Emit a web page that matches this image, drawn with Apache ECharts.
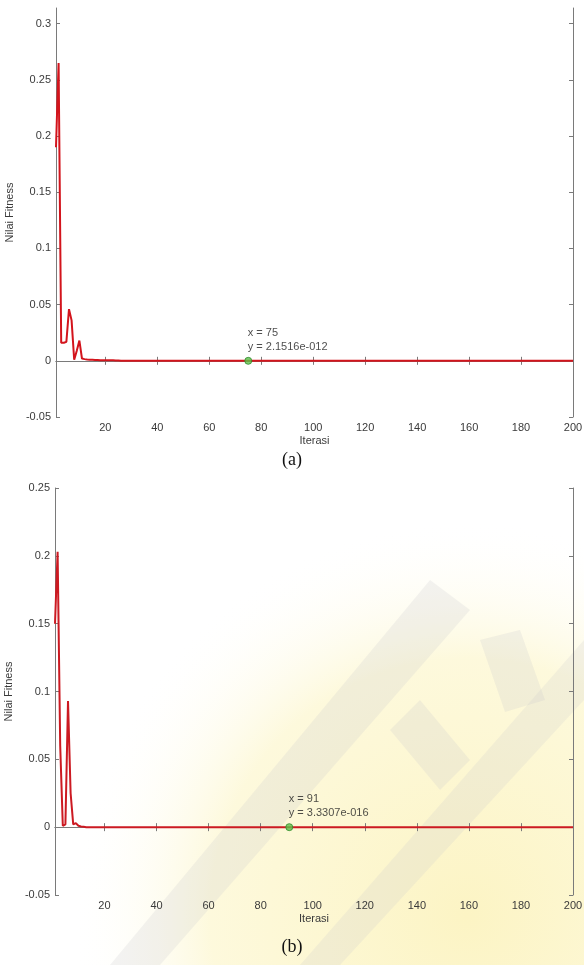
<!DOCTYPE html>
<html>
<head>
<meta charset="utf-8">
<script src="https://cdn.jsdelivr.net/npm/echarts@6/dist/echarts.min.js"></script>
<style>
  html, body { margin: 0; padding: 0; background: #ffffff; }
  #chart { width: 584px; height: 965px; }
</style>
</head>
<body>
<div id="chart"></div>
<script>
// ---------- data ----------
const xTicks = [20, 40, 60, 80, 100, 120, 140, 160, 180, 200];
const yTicksA = [-0.05, 0, 0.05, 0.1, 0.15, 0.2, 0.25, 0.3];
const yTicksB = [-0.05, 0, 0.05, 0.1, 0.15, 0.2, 0.25];

// Nilai fitness per iterasi (1..200), panel (a)
const fitnessA = [
  0.19, 0.265, 0.016, 0.016, 0.017, 0.046, 0.036, 0.001, 0.009, 0.018,
  0.002, 0.0015, 0.0012, 0.001, 0.001, 0.0008, 0.0008, 0.0006, 0.0006, 0.0005,
  0.0005, 0.0004, 0.0004, 0.0003, 0.0002, 0, 0, 0, 0, 0,
  0, 0, 0, 0, 0, 0, 0, 0, 0, 0,
  0, 0, 0, 0, 0, 0, 0, 0, 0, 0,
  0, 0, 0, 0, 0, 0, 0, 0, 0, 0,
  0, 0, 0, 0, 0, 0, 0, 0, 0, 0,
  0, 0, 0, 0, 0, 0, 0, 0, 0, 0,
  0, 0, 0, 0, 0, 0, 0, 0, 0, 0,
  0, 0, 0, 0, 0, 0, 0, 0, 0, 0,
  0, 0, 0, 0, 0, 0, 0, 0, 0, 0,
  0, 0, 0, 0, 0, 0, 0, 0, 0, 0,
  0, 0, 0, 0, 0, 0, 0, 0, 0, 0,
  0, 0, 0, 0, 0, 0, 0, 0, 0, 0,
  0, 0, 0, 0, 0, 0, 0, 0, 0, 0,
  0, 0, 0, 0, 0, 0, 0, 0, 0, 0,
  0, 0, 0, 0, 0, 0, 0, 0, 0, 0,
  0, 0, 0, 0, 0, 0, 0, 0, 0, 0,
  0, 0, 0, 0, 0, 0, 0, 0, 0, 0,
  0, 0, 0, 0, 0, 0, 0, 0, 0, 0
];

// Nilai fitness per iterasi (1..200), panel (b)
const fitnessB = [
  0.15, 0.203, 0.06, 0.001, 0.002, 0.093, 0.025, 0.002, 0.003, 0.001,
  0.0005, 0.0003, 0, 0, 0, 0, 0, 0, 0, 0,
  0, 0, 0, 0, 0, 0, 0, 0, 0, 0,
  0, 0, 0, 0, 0, 0, 0, 0, 0, 0,
  0, 0, 0, 0, 0, 0, 0, 0, 0, 0,
  0, 0, 0, 0, 0, 0, 0, 0, 0, 0,
  0, 0, 0, 0, 0, 0, 0, 0, 0, 0,
  0, 0, 0, 0, 0, 0, 0, 0, 0, 0,
  0, 0, 0, 0, 0, 0, 0, 0, 0, 0,
  0, 0, 0, 0, 0, 0, 0, 0, 0, 0,
  0, 0, 0, 0, 0, 0, 0, 0, 0, 0,
  0, 0, 0, 0, 0, 0, 0, 0, 0, 0,
  0, 0, 0, 0, 0, 0, 0, 0, 0, 0,
  0, 0, 0, 0, 0, 0, 0, 0, 0, 0,
  0, 0, 0, 0, 0, 0, 0, 0, 0, 0,
  0, 0, 0, 0, 0, 0, 0, 0, 0, 0,
  0, 0, 0, 0, 0, 0, 0, 0, 0, 0,
  0, 0, 0, 0, 0, 0, 0, 0, 0, 0,
  0, 0, 0, 0, 0, 0, 0, 0, 0, 0,
  0, 0, 0, 0, 0, 0, 0, 0, 0, 0
];

const markerA = { x: 75, y: 2.1516e-12, label: ['x = 75', 'y = 2.1516e-012'] };
const markerB = { x: 91, y: 3.3307e-16, label: ['x = 91', 'y = 3.3307e-016'] };
const panelLabels = ['(a)', '(b)'];

// ---------- chart ----------
const FONT = '"Liberation Sans", Arial, sans-serif';
const AX = '#7a7a7a';
const TXT = '#3a3a3a';

function toPairs(arr) { return arr.map((v, i) => [i + 1, v]); }
function fmtY(v) { return String(+Number(v).toFixed(2)); }

function mainX(gridIndex) {
  return {
    type: 'value', gridIndex, min: 1, max: 200, position: 'bottom',
    name: 'Iterasi', nameLocation: 'middle', nameGap: 18,
    nameTextStyle: { fontFamily: FONT, fontSize: 11, color: TXT },
    axisLine: { show: true, lineStyle: { color: AX, width: 1 } },
    axisTick: { show: true, inside: true, length: 4, customValues: xTicks, lineStyle: { color: AX } },
    axisLabel: { show: true, margin: 5, customValues: xTicks, fontFamily: FONT, fontSize: 11, color: TXT },
    splitLine: { show: false }
  };
}
function topX(gridIndex) {
  return {
    type: 'value', gridIndex, min: 1, max: 200, position: 'top',
    axisLine: { show: true, lineStyle: { color: AX, width: 1 } },
    axisTick: { show: true, inside: true, length: 4, customValues: xTicks, lineStyle: { color: AX } },
    axisLabel: { show: false }, splitLine: { show: false }
  };
}
function mainY(gridIndex, min, max, ticks) {
  return {
    type: 'value', gridIndex, min, max, position: 'left',
    name: 'Nilai Fitness', nameLocation: 'middle', nameGap: 33,
    nameTextStyle: { fontFamily: FONT, fontSize: 11, color: TXT },
    axisLine: { show: true, lineStyle: { color: AX, width: 1 } },
    axisTick: { show: true, inside: true, length: 4, customValues: ticks, lineStyle: { color: AX } },
    axisLabel: { show: true, margin: 5, customValues: ticks, formatter: fmtY, fontFamily: FONT, fontSize: 11, color: TXT },
    splitLine: { show: false }
  };
}
function rightY(gridIndex, min, max, ticks) {
  return {
    type: 'value', gridIndex, min, max, position: 'right',
    axisLine: { show: true, lineStyle: { color: AX, width: 1 } },
    axisTick: { show: true, inside: true, length: 4, customValues: ticks, lineStyle: { color: AX } },
    axisLabel: { show: false }, splitLine: { show: false }
  };
}
function markerSeries(xi, yi, m) {
  return {
    type: 'scatter', xAxisIndex: xi, yAxisIndex: yi, z: 5,
    symbol: 'circle', symbolSize: 7,
    itemStyle: { color: '#5cc24a', borderColor: '#2f8a2a', borderWidth: 1 },
    data: [[m.x, m.y]],
    label: {
      show: true, position: [3.5, -31], align: 'left', verticalAlign: 'top',
      formatter: m.label.join('\n'), lineHeight: 14,
      fontFamily: FONT, fontSize: 11, color: '#222'
    },
    silent: true
  };
}

const chart = echarts.init(document.getElementById('chart'), null, { renderer: 'canvas' });
chart.setOption({
  animation: false,
  backgroundColor: '#ffffff',
  graphic: [
    // faint watermark background behind panel (b)
    { type: 'rect', z: -10, silent: true, shape: { x: 0, y: 470, width: 584, height: 495 },
      style: { fill: { type: 'radial', x: 0.8, y: 0.9, r: 0.8,
        colorStops: [{ offset: 0, color: 'rgba(252,244,196,1)' }, { offset: 0.65, color: 'rgba(253,248,214,0.85)' }, { offset: 1, color: 'rgba(255,255,255,0)' }] } } },
    { type: 'polygon', z: -9, silent: true, shape: { points: [[110, 965], [160, 965], [470, 610], [430, 580]] }, style: { fill: 'rgba(200,200,205,0.22)' } },
    { type: 'polygon', z: -9, silent: true, shape: { points: [[300, 965], [340, 965], [584, 700], [584, 640]] }, style: { fill: 'rgba(200,200,205,0.20)' } },
    { type: 'polygon', z: -9, silent: true, shape: { points: [[390, 730], [420, 700], [470, 760], [440, 790]] }, style: { fill: 'rgba(200,200,205,0.22)' } },
    { type: 'polygon', z: -9, silent: true, shape: { points: [[480, 640], [520, 630], [545, 700], [505, 712]] }, style: { fill: 'rgba(200,200,205,0.22)' } },
    { type: 'text', left: 'center', top: 451, style: { text: panelLabels[0], fontFamily: '"Liberation Serif", "Times New Roman", serif', fontSize: 18, fill: '#111' } },
    { type: 'text', left: 'center', top: 938, style: { text: panelLabels[1], fontFamily: '"Liberation Serif", "Times New Roman", serif', fontSize: 18, fill: '#111' } }
  ],
  grid: [
    { left: 56, right: 11, top: 8, height: 409, show: false, outerBoundsMode: 'none', containLabel: false },
    { left: 55, right: 11, top: 488, height: 407, show: false, outerBoundsMode: 'none', containLabel: false }
  ],
  xAxis: [mainX(0), topX(0), mainX(1), topX(1)],
  yAxis: [
    mainY(0, -0.05, 0.314, yTicksA), rightY(0, -0.05, 0.314, yTicksA),
    mainY(1, -0.05, 0.25, yTicksB), rightY(1, -0.05, 0.25, yTicksB)
  ],
  series: [
    { type: 'line', xAxisIndex: 0, yAxisIndex: 0, data: toPairs(fitnessA), showSymbol: false,
      lineStyle: { color: '#d3141c', width: 2 }, z: 3, silent: true },
    markerSeries(0, 0, markerA),
    { type: 'line', xAxisIndex: 2, yAxisIndex: 2, data: toPairs(fitnessB), showSymbol: false,
      lineStyle: { color: '#cc1a22', width: 2 }, z: 3, silent: true },
    markerSeries(2, 2, markerB)
  ]
});
</script>
</body>
</html>
